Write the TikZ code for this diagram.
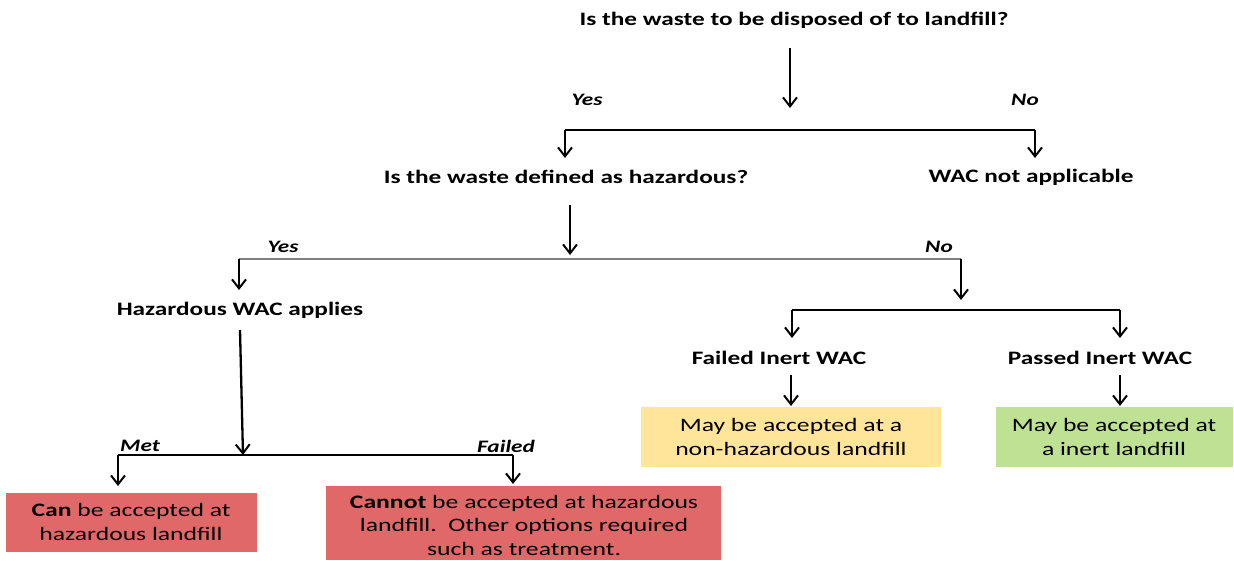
\documentclass[tikz,border=0pt]{standalone}
\usepackage{fontspec}
\setmainfont{Carlito}
\newfontfamily\boxfont{Carlito}[FakeStretch=1.35]
\newfontfamily\headfont{Carlito}[FakeStretch=1.33]
\usetikzlibrary{arrows.meta}
\definecolor{redbox}{RGB}{224,104,104}
\definecolor{yellowbox}{RGB}{255,229,153}
\definecolor{greenbox}{RGB}{190,225,148}
\begin{document}
\begin{tikzpicture}[x=1pt,y=-1pt,
  q/.style={font=\headfont\fontsize{19}{22}\selectfont\bfseries, inner sep=0pt, anchor=center},
  lab/.style={font=\headfont\fontsize{17.5}{20}\selectfont\bfseries\itshape, inner sep=0pt},
  conn/.style={line width=2.3pt, black},
  arr/.style={conn, -{Straight Barb[length=9pt,width=14pt,line width=2pt]}},
  boxtxt/.style={font=\boxfont\fontsize{19}{23.5}\selectfont, align=center, inner sep=0pt}
]
\useasboundingbox (0,0) rectangle (1234,560);
% texts
\node[q] (t1) at (794,20) {Is the waste to be disposed of to landfill?};
\node[q] (q2) at (566,177) {Is the waste defined as hazardous?};
\node[q] (wac) at (1031,177) {WAC not applicable};
\node[q] (haz) at (240,310) {Hazardous WAC applies};
\node[q] (fin) at (779,358) {Failed Inert WAC};
\node[q] (pin) at (1100,358) {Passed Inert WAC};
% labels
\node[lab] (y1) at (587,100) {Yes};
\node[lab] (n1) at (1025,100) {No};
\node[lab] (y2) at (283,247) {Yes};
\node[lab] (n2) at (939,247) {No};
\node[lab] (met) at (140,446) {Met};
\node[lab] (fail) at (506,446) {Failed};
% boxes
\fill[redbox] (6,493) rectangle (257,552);
\node[boxtxt] (b1) at (131,522) {\textbf{Can} be accepted at\\hazardous landfill};
\fill[redbox] (326,486) rectangle (721,560);
\node[boxtxt] (b2) at (524,525) {\textbf{Cannot} be accepted at hazardous\\landfill.\ \ Other options required\\such as treatment.};
\fill[yellowbox] (641,407) rectangle (941,467);
\node[boxtxt] (b3) at (791,437) {May be accepted at a\\non-hazardous landfill};
\fill[greenbox] (996,407) rectangle (1233,467);
\node[boxtxt] (b4) at (1114,437) {May be accepted at\\a inert landfill};
% junction coordinates
\coordinate (a1s) at (790,48);
\coordinate (a1e) at (790,108);
\coordinate (j1l) at (565,130);
\coordinate (j1r) at (1035,130);
\coordinate (a2s) at (570,205);
\coordinate (a2e) at (570,255);
\coordinate (j2l) at (239,259);
\coordinate (j2r) at (961,259);
\coordinate (a3s) at (240,330);
\coordinate (a3e) at (243,455);
\coordinate (j3l) at (118,455);
\coordinate (j3r) at (513,455);
\coordinate (j4l) at (792,310);
\coordinate (j4r) at (1120,310);
\coordinate (f1s) at (791,375);
\coordinate (p1s) at (1120,375);
% connectors
\draw[arr] (a1s) -- (a1e);
\draw[conn] (j1l) -- (j1r);
\draw[arr] (j1l) -- (565,158);
\draw[arr] (j1r) -- (1035,158);
\draw[arr] (a2s) -- (a2e);
\draw[line width=2.3pt, gray] (j2l) -- (j2r);
\draw[arr] (j2l) -- (239,290);
\draw[arr] (j2r) -- (961,300);
\draw[arr] (a3s) -- (a3e);
\draw[conn] (j3l) -- (j3r);
\draw[arr] (j3l) -- (118,486);
\draw[arr] (j3r) -- (513,484);
\draw[conn] (j4l) -- (j4r);
\draw[arr] (j4l) -- (792,338);
\draw[arr] (j4r) -- (1120,338);
\draw[arr] (f1s) -- (791,406);
\draw[arr] (p1s) -- (1120,406);
\end{tikzpicture}
\end{document}
